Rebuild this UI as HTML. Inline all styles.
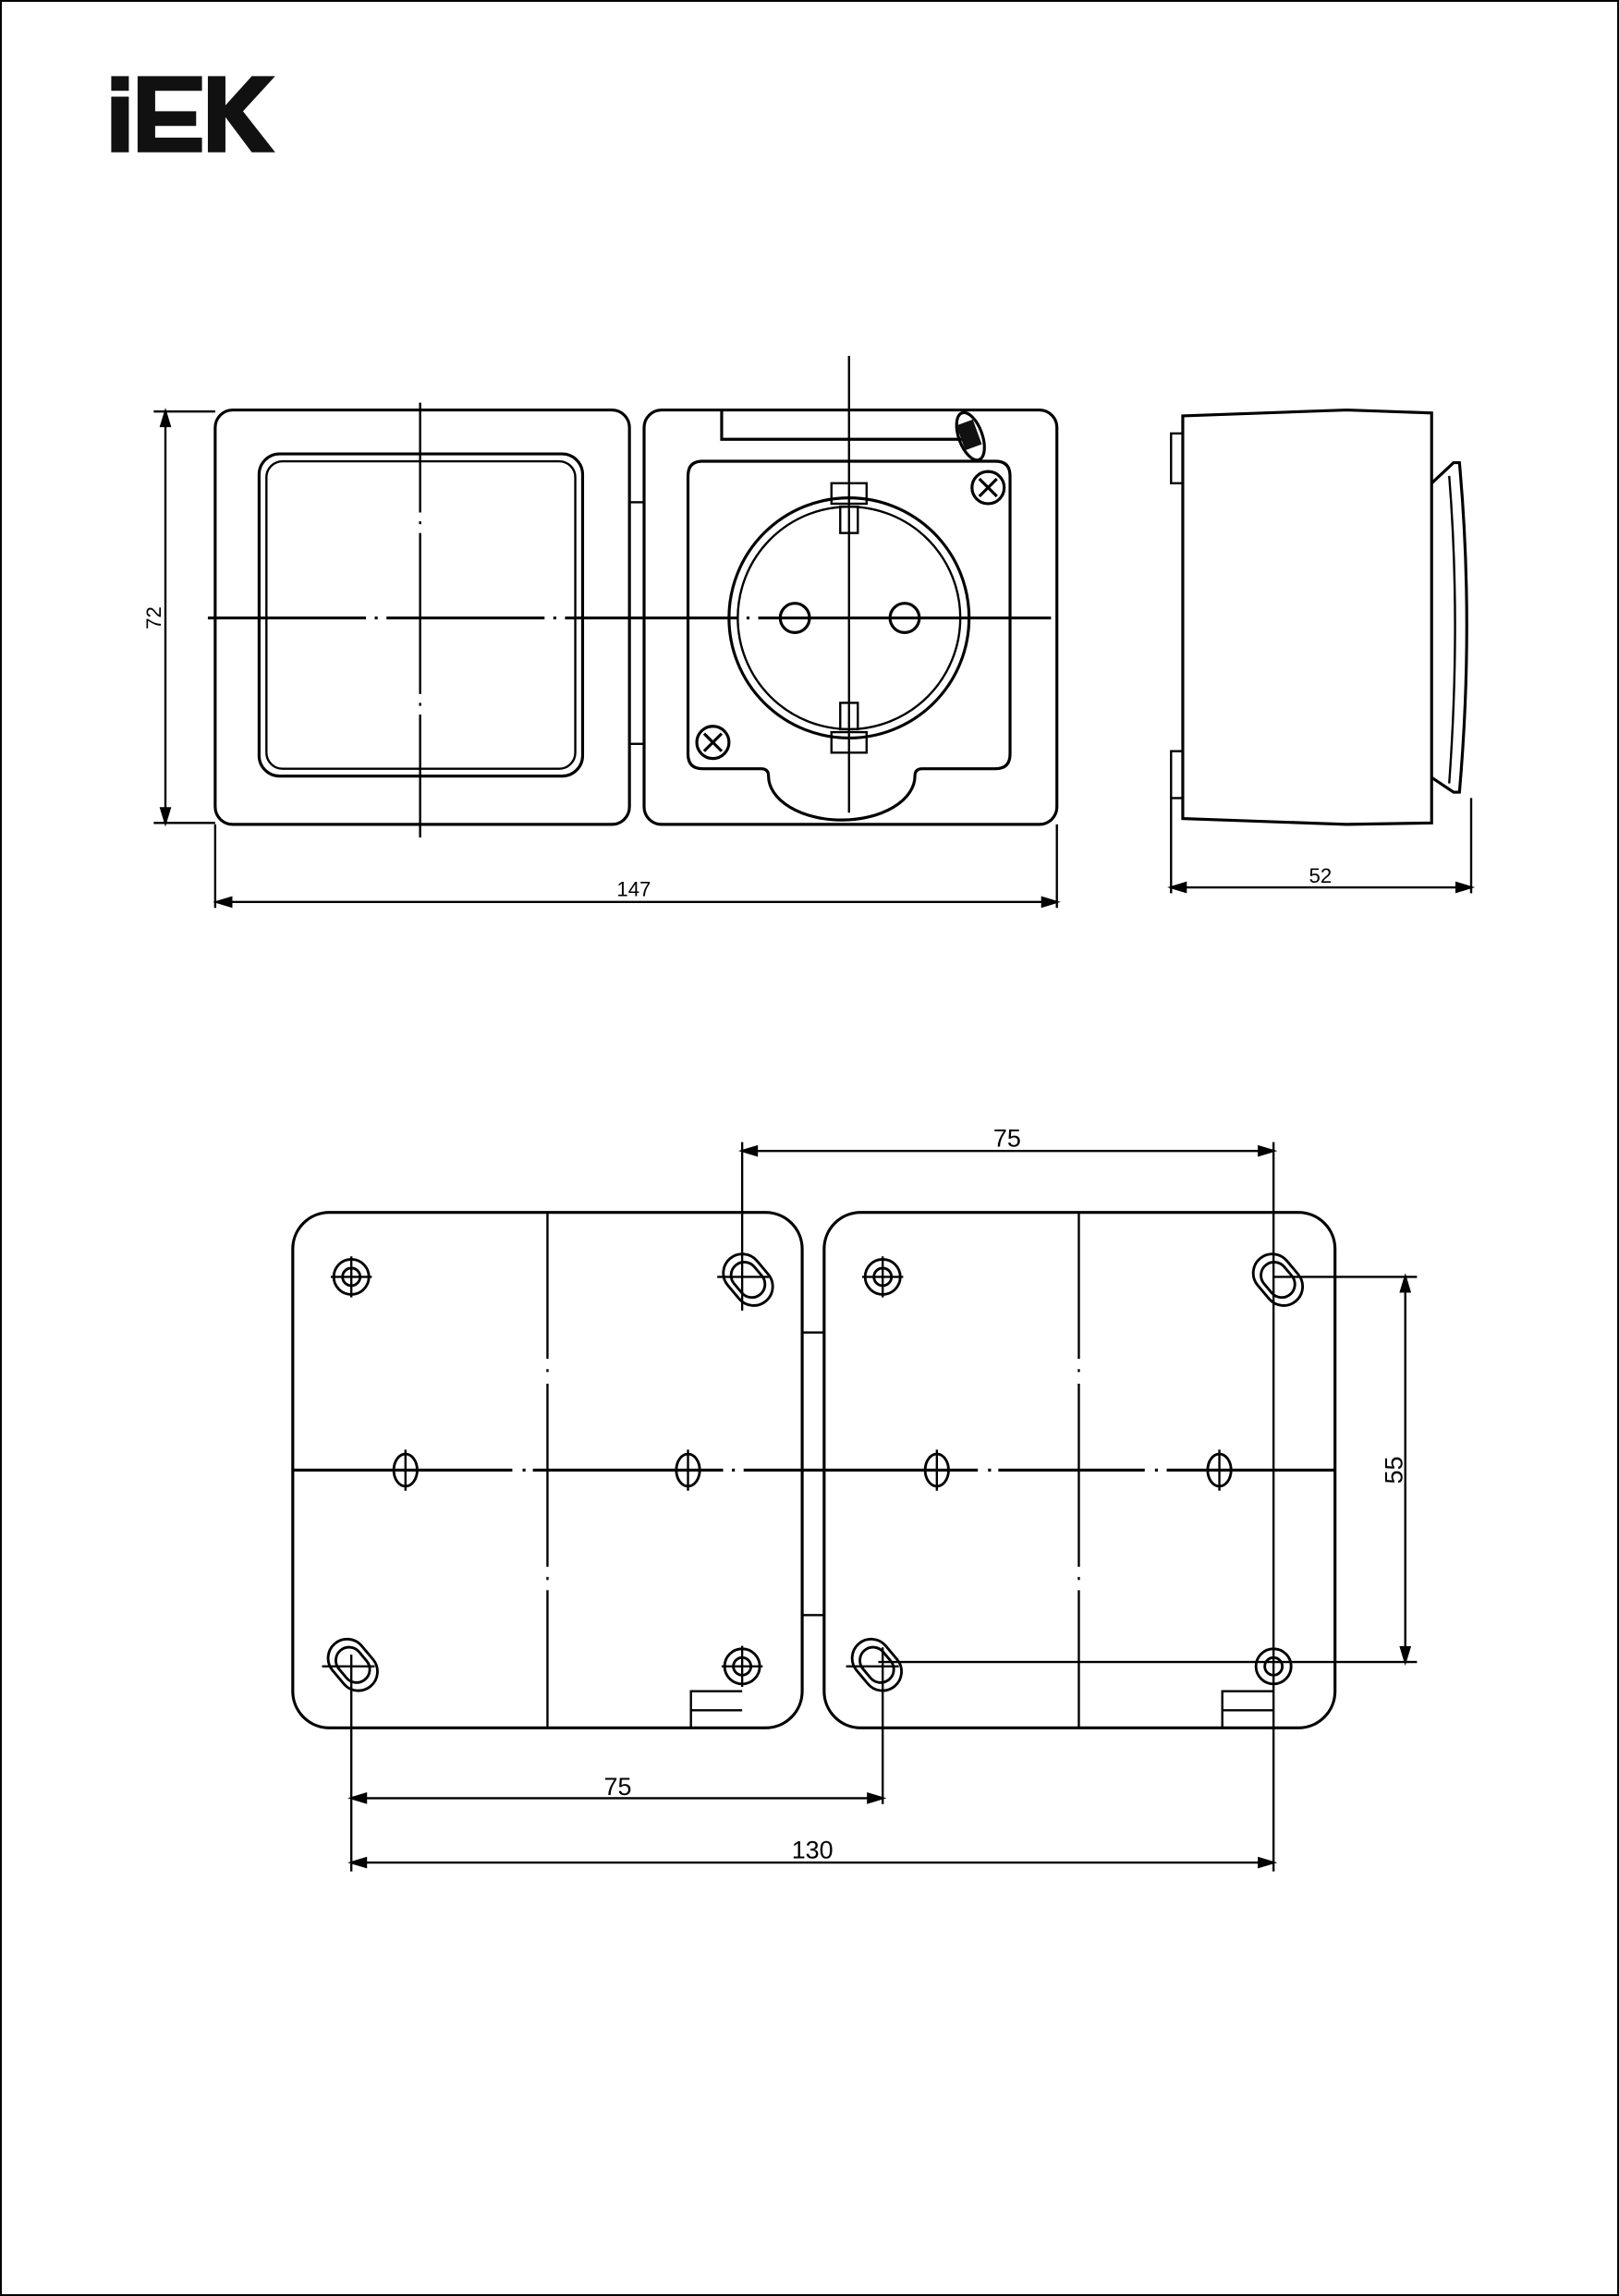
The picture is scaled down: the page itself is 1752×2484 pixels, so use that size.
<!DOCTYPE html>
<html><head><meta charset="utf-8"><style>html,body{margin:0;padding:0;background:#fff}svg{display:block}</style></head>
<body>
<svg width="1752" height="2484" viewBox="0 0 1106 1568" preserveAspectRatio="none" xmlns="http://www.w3.org/2000/svg" font-family="Liberation Sans, sans-serif">
<rect x="0.5" y="0.5" width="1105" height="1567" fill="#fff" stroke="#000" stroke-width="1.5"/>
<!-- logo -->
<g fill="#111">
<rect x="76" y="52" width="12" height="10"/><rect x="76" y="66" width="12" height="38"/>
<path d="M94 52h44v10h-32v14h28v10h-28v8h32v10h-44z"/>
<path d="M142 52h12v20l18-20h16l-22 24 22 28h-16l-18-24v24h-12z"/>
</g>
<g fill="none" stroke="#000" stroke-width="2">
<!-- top view left plate -->
<rect x="147" y="280" width="283" height="283" rx="12"/>
<rect x="177" y="310" width="221" height="220" rx="14"/>
<rect x="182" y="315" width="211" height="210" rx="11" stroke-width="1.5"/>
<rect x="430" y="343" width="10" height="165" stroke-width="1.5"/>
<!-- right plate -->
<rect x="440" y="280" width="282" height="283" rx="12"/>
<path d="M493 280v20h170"/>
<path d="M470 325q0-10 10-10h200q10 0 10 10v190q0 10-10 10h-50q-5 0-5 5 a50 30 0 0 1-100 0q0-5-5-5h-40q-10 0-10-10z"/>
<circle cx="580" cy="422" r="82"/>
<circle cx="580" cy="422" r="76" stroke-width="1.5"/>
<rect x="568" y="330" width="24" height="14" stroke-width="1.5"/>
<rect x="568" y="500" width="24" height="14" stroke-width="1.5"/>
<rect x="574" y="346" width="12" height="18" stroke-width="1.5"/>
<rect x="574" y="480" width="12" height="18" stroke-width="1.5"/>
<circle cx="543" cy="422" r="10"/><circle cx="618" cy="422" r="10"/>
<circle cx="675" cy="333" r="11"/><path d="M669 327l12 12M681 327l-12 12"/>
<circle cx="487" cy="507" r="11"/><path d="M481 501l12 12M493 501l-12 12"/>
<ellipse cx="663" cy="298" rx="8" ry="17" transform="rotate(-20 663 298)"/>
</g>
<rect x="656" y="288" width="12" height="18" fill="#111" transform="rotate(-20 662 297)"/>
<!-- center lines top -->
<g stroke="#000" stroke-width="1.5" fill="none">
<path d="M142 422h108 M256 422h2 M264 422h108 M378 422h2 M386 422h118 M510 422h2 M518 422h200" stroke-width="2"/>
<path d="M287 275v75 M287 356v2 M287 364v110 M287 480v2 M287 488v84"/>
<path d="M580 243v312"/>
<!-- dims top -->
<path d="M105 281h42 M105 562h42 M113 281v281"/>
<path d="M147 563v57 M722 563v57 M148 616h574"/>
<path d="M113 281l-3 10h6z M113 562l-3-10h6z M148 616l10-3v6z M722 616l-10-3v6z" fill="#000"/>
</g>
<text x="0" y="0" font-size="14" transform="translate(110 422) rotate(-90)" text-anchor="middle">72</text>
<text x="433" y="612" font-size="14" text-anchor="middle">147</text>
<!-- side view -->
<g fill="none" stroke="#000" stroke-width="2">
<path d="M808 284l112-4 58 2v280l-58 1-112-4z"/>
<path d="M800 296h8v34h-8z M800 513h8v32h-8z" stroke-width="1.5"/>
<path d="M978 330l15-14h4q10 110 0 225h-4l-15-10"/>
<path d="M990 325q8 100 0 210" stroke-width="1.5"/>
</g>
<g stroke="#000" stroke-width="1.5"><path d="M800 545v65 M1005 545v65 M800 606h205"/><path d="M800 606l10-3v6z M1005 606l-10-3v6z" fill="#000"/></g>
<text x="902" y="603" font-size="14" text-anchor="middle">52</text>
<!-- bottom view -->
<g fill="none" stroke="#000" stroke-width="2">
<rect x="200" y="828" width="348" height="352" rx="25"/>
<rect x="563" y="828" width="349" height="352" rx="25"/>
<rect x="548" y="910" width="15" height="193" stroke-width="1.5"/>
<path d="M472 1180v-25h35 M472 1168h35 M835 1180v-25h35 M835 1168h35" stroke-width="1.5"/>
<g stroke-width="1.8">
<circle cx="240" cy="872" r="12"/><circle cx="240" cy="872" r="6"/>
<circle cx="603" cy="872" r="12"/><circle cx="603" cy="872" r="6"/>
<circle cx="507" cy="1138" r="12"/><circle cx="507" cy="1138" r="6"/>
<circle cx="870" cy="1138" r="12"/><circle cx="870" cy="1138" r="6"/>
<rect x="498" y="855" width="26" height="38" rx="13" transform="rotate(-40 511 874)"/>
<rect x="502" y="861" width="18" height="26" rx="9" transform="rotate(-40 511 874)"/>
<rect x="860" y="855" width="26" height="38" rx="13" transform="rotate(-40 873 874)"/>
<rect x="864" y="861" width="18" height="26" rx="9" transform="rotate(-40 873 874)"/>
<rect x="228" y="1118" width="26" height="38" rx="13" transform="rotate(-40 241 1137)"/>
<rect x="232" y="1124" width="18" height="26" rx="9" transform="rotate(-40 241 1137)"/>
<rect x="586" y="1118" width="26" height="38" rx="13" transform="rotate(-40 599 1137)"/>
<rect x="590" y="1124" width="18" height="26" rx="9" transform="rotate(-40 599 1137)"/>
<ellipse cx="277" cy="1004" rx="8" ry="11"/><ellipse cx="470" cy="1004" rx="8" ry="11"/>
<ellipse cx="640" cy="1004" rx="8" ry="11"/><ellipse cx="833" cy="1004" rx="8" ry="11"/>
</g>
</g>
<g stroke="#000" stroke-width="1.5" fill="none">
<path d="M200 1004h150 M357 1004h2 M364 1004h130 M500 1004h2 M508 1004h160 M675 1004h2 M682 1004h100 M789 1004h2 M797 1004h115" stroke-width="2"/>
<path d="M374 828v100 M374 935v2 M374 945v125 M374 1077v2 M374 1086v94"/>
<path d="M737 828v100 M737 935v2 M737 945v125 M737 1077v2 M737 1086v94"/>
<path d="M226 872h28 M240 858v28 M589 872h28 M603 858v28 M493 1138h28 M507 1124v28 M490 872h36 M220 1138h36 M578 1138h36 M267 1004h20 M277 990v28 M460 1004h20 M470 990v28 M630 1004h20 M640 990v28 M823 1004h20 M833 990v28"/>
<!-- dims -->
<path d="M507 780v115 M870 780v498 M507 786h363"/>
<path d="M870 872h98 M600 1135h368 M960 872v263"/>
<path d="M240 1130v148 M603 1125v107 M240 1228h363 M240 1272h630"/>
<path d="M507 786l10-3v6z M870 786l-10-3v6z M960 872l-3 10h6z M960 1135l-3-10h6z M240 1228l10-3v6z M603 1228l-10-3v6z M240 1272l10-3v6z M870 1272l-10-3v6z" fill="#000"/>
</g>
<text x="688" y="783" font-size="17" text-anchor="middle">75</text>
<text x="422" y="1226" font-size="17" text-anchor="middle">75</text>
<text x="555" y="1269" font-size="17" text-anchor="middle">130</text>
<text x="0" y="0" font-size="17" text-anchor="middle" transform="translate(958 1004) rotate(-90)">55</text>
</svg>
</body></html>
